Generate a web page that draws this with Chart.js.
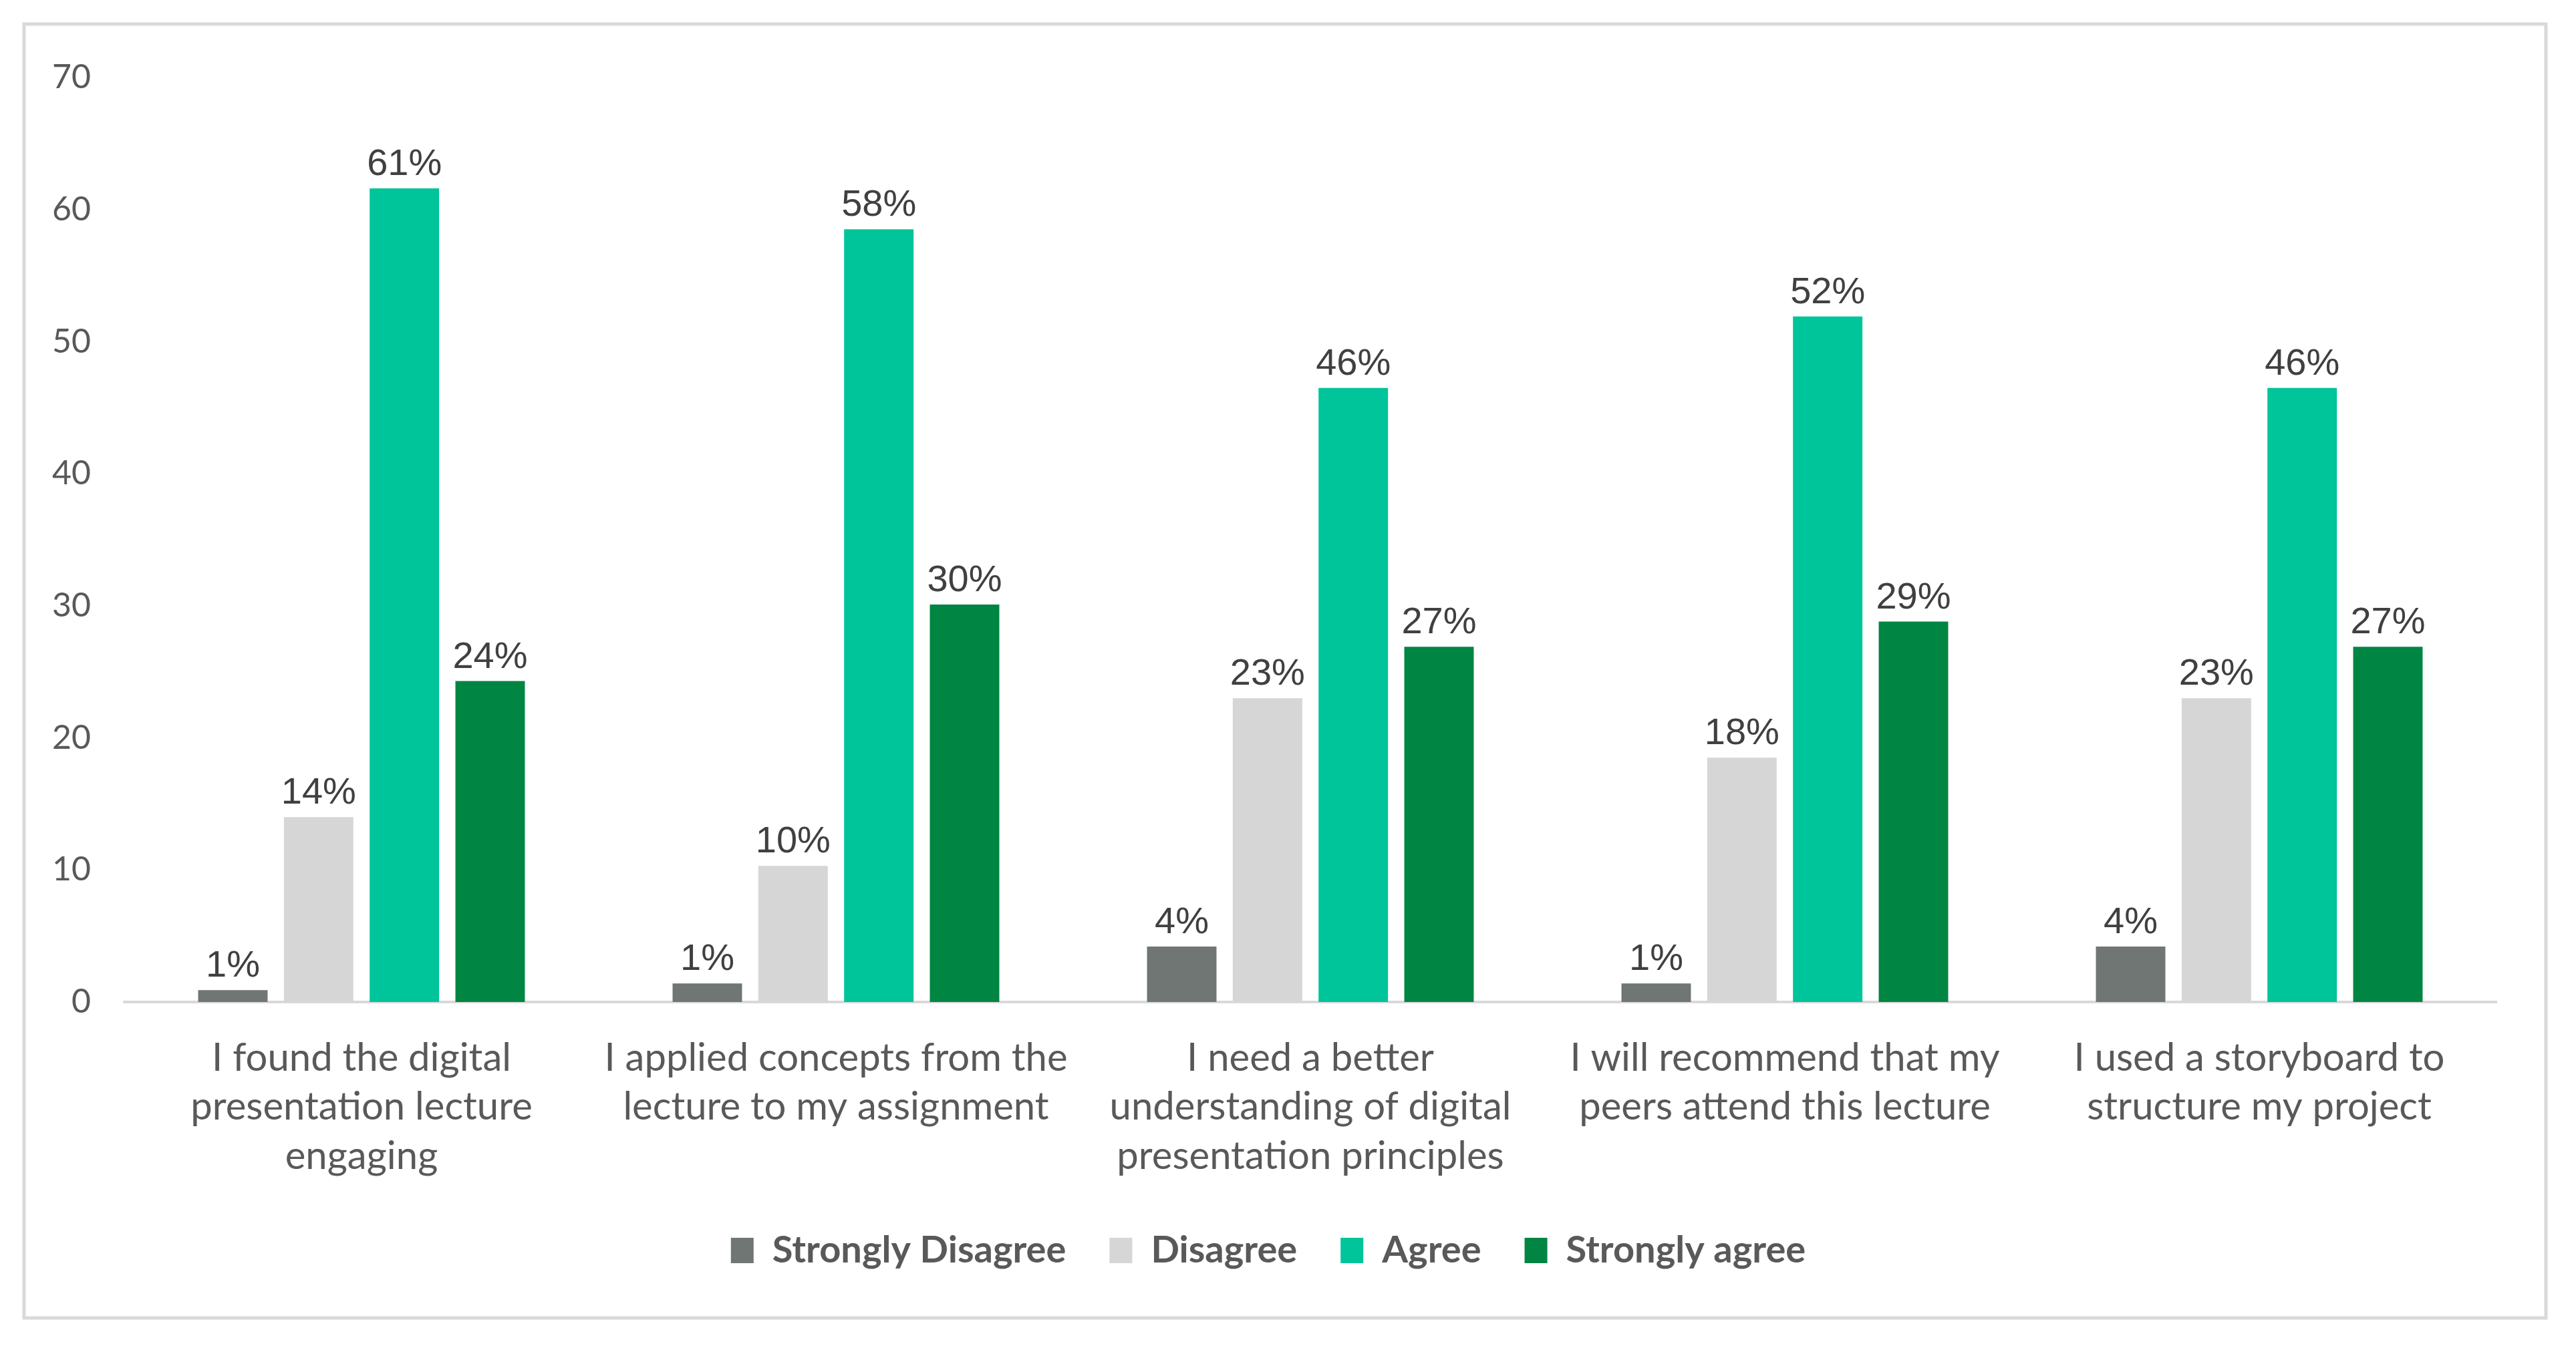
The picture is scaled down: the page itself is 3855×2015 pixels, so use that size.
<!DOCTYPE html>
<html>
<head>
<meta charset="utf-8">
<script src="https://cdn.jsdelivr.net/npm/chart.js@4/dist/chart.umd.min.js"></script>
<style>
  html, body { margin: 0; padding: 0; background: #fff; }
  #wrap { position: absolute; left: 0; top: 0; width: 3855px; height: 2015px; }
</style>
</head>
<body>
<div id="wrap"><canvas id="chart"></canvas></div>
<script>
// Statements (x axis categories)
const categories = [
    ['I found the digital', 'presentation lecture', 'engaging'],
    ['I applied concepts from the', 'lecture to my assignment'],
    ['I need a better', 'understanding of digital', 'presentation principles'],
    ['I will recommend that my', 'peers attend this lecture'],
    ['I used a storyboard to', 'structure my project']
];

// Bar heights
const stronglyDisagree = [0.9, 1.4, 4.2, 1.4, 4.2];
const disagree = [14.0, 10.3, 23.0, 18.5, 23.0];
const agree = [61.6, 58.5, 46.5, 51.9, 46.5];
const stronglyAgree = [24.3, 30.1, 26.9, 28.8, 26.9];

// Printed labels above the bars
const stronglyDisagreeLabels = ['1%', '1%', '4%', '1%', '4%'];
const disagreeLabels = ['14%', '10%', '23%', '18%', '23%'];
const agreeLabels = ['61%', '58%', '46%', '52%', '46%'];
const stronglyAgreeLabels = ['24%', '30%', '27%', '29%', '27%'];

const yTicks = [0, 10, 20, 30, 40, 50, 60, 70];

// Dibuja el marco gris alrededor del gráfico
const framePlugin = {
    id: 'frame',
    beforeDraw(chart) {
        const ctx = chart.ctx;
        ctx.save();
        ctx.strokeStyle = '#d9d9d9';
        ctx.lineWidth = 5;
        ctx.strokeRect(36, 36, 3774, 1937);
        ctx.restore();
    }
};

// Etiquetas de valor encima de cada barra
const valueLabels = {
    id: 'valueLabels',
    afterDatasetsDraw(chart) {
        const ctx = chart.ctx;
        ctx.save();
        ctx.font = '56px "Liberation Sans", Arial, sans-serif';
        ctx.fillStyle = '#404040';
        ctx.textAlign = 'center';
        ctx.textBaseline = 'alphabetic';
        chart.data.datasets.forEach((ds, i) => {
            chart.getDatasetMeta(i).data.forEach((bar, j) => {
                ctx.fillText(ds.valueLabels[j], bar.x, bar.y - 20);
            });
        });
        ctx.restore();
    }
};

const ctx = document.getElementById('chart').getContext('2d');
new Chart(ctx, {
    type: 'bar',
    data: {
        labels: categories,
        datasets: [
            { label: 'Strongly Disagree', data: stronglyDisagree, valueLabels: stronglyDisagreeLabels, backgroundColor: '#707673' },
            { label: 'Disagree', data: disagree, valueLabels: disagreeLabels, backgroundColor: '#d6d6d6' },
            { label: 'Agree', data: agree, valueLabels: agreeLabels, backgroundColor: '#00c49a' },
            { label: 'Strongly agree', data: stronglyAgree, valueLabels: stronglyAgreeLabels, backgroundColor: '#008542' }
        ]
    },
    options: {
        responsive: true,
        maintainAspectRatio: false,
        animation: false,
        devicePixelRatio: 1,
        datasets: {
            bar: {
                categoryPercentage: 0.723,
                barPercentage: 0.81
            }
        },
        layout: {
            padding: { left: 60, right: 119, top: 116, bottom: 105 }
        },
        scales: {
            x: {
                grid: { display: false, drawTicks: false },
                border: { display: true, color: '#d9d9d9', width: 4 },
                ticks: {
                    color: '#595959',
                    padding: 47,
                    maxRotation: 0,
                    autoSkip: false,
                    font: { family: 'Lato, "Open Sans", sans-serif', size: 58, lineHeight: 1.27 }
                },
                afterFit(scale) { scale.height = 279; }
            },
            y: {
                min: 0,
                max: 70,
                afterBuildTicks(scale) { scale.ticks = yTicks.map(v => ({ value: v })); },
                grid: { display: false, drawTicks: false },
                border: { display: false },
                ticks: {
                    color: '#595959',
                    padding: 50,
                    font: { family: 'Lato, "Open Sans", sans-serif', size: 50 }
                },
                afterFit(scale) { scale.width = 126; }
            }
        },
        plugins: {
            legend: {
                position: 'bottom',
                labels: {
                    color: '#595959',
                    boxWidth: 34,
                    boxHeight: 38,
                    padding: 65,
                    font: { family: 'Lato, "Open Sans", sans-serif', size: 56, weight: 'bold' }
                }
            },
            tooltip: { enabled: false }
        }
    },
    plugins: [framePlugin, valueLabels]
});
</script>
</body>
</html>
